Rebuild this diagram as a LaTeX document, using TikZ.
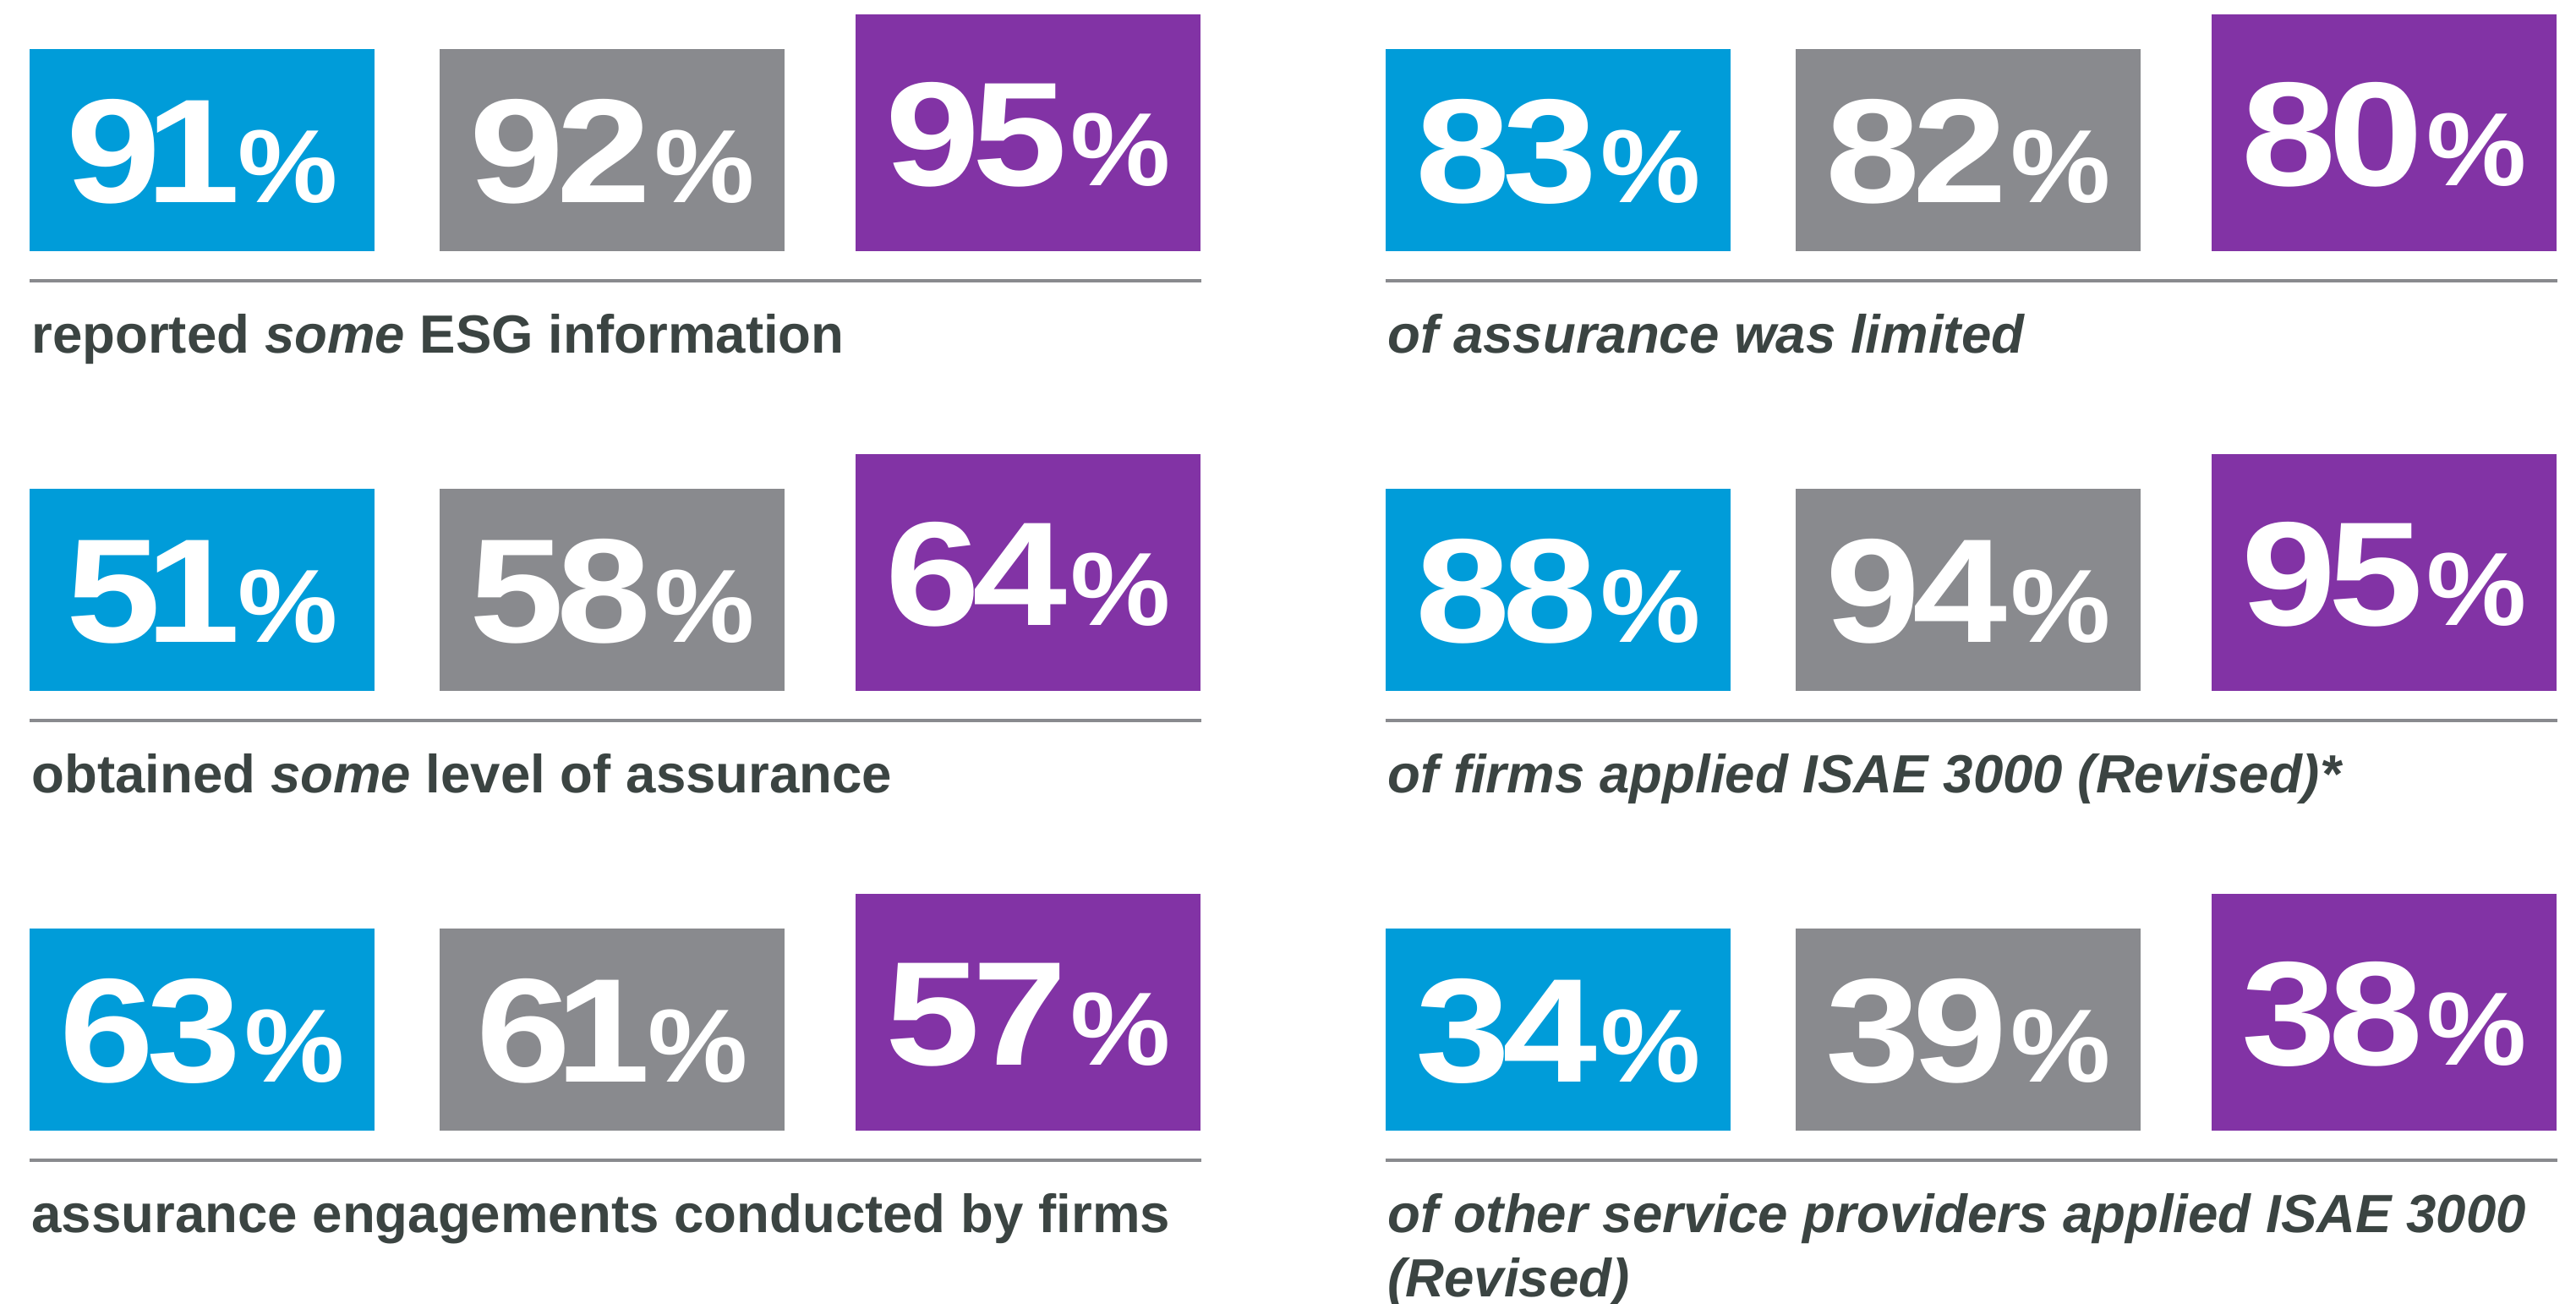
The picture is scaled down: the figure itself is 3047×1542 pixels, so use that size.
\documentclass[tikz,border=0pt]{standalone}
\usepackage{graphicx}
\usepackage{fontspec}
\setmainfont{Liberation Sans}
\newfontfamily\numfont{Liberation Sans}[LetterSpace=-4]
\definecolor{cblue}{HTML}{009CD9}
\definecolor{cgray}{HTML}{898A8E}
\definecolor{cpurple}{HTML}{8233A5}
\definecolor{ctext}{HTML}{3B4442}
\newcommand\bignum[1]{\scalebox{1.15}[1]{\fontsize{87.5pt}{90pt}\selectfont #1}\kern2pt\scalebox{1.08}[1]{\fontsize{61.5pt}{64pt}\selectfont\%}}
\newcommand\one{\kern-8pt 1\kern-3pt}
% #1 prefix, #2 left x, #3 bottom y of boxes, #4 #5 #6 numbers
\newcommand\statgroup[6]{%
  \node[statbox, fill=cblue, minimum height=119.5pt] (#1a) at (#2,#3) {};
  \node[statbox, fill=cgray, minimum height=119.5pt] (#1b) at (#2+485,#3) {};
  \node[statbox, fill=cpurple, minimum height=140pt] (#1c) at (#2+977,#3) {};
  \node[numtxt] (#1na) at ([yshift=-31pt]#1a.center) {\bignum{#4}};
  \node[numtxt] (#1nb) at ([yshift=-31pt]#1b.center) {\bignum{#5}};
  \node[numtxt] (#1nc) at ([yshift=-31pt]#1c.center) {\bignum{#6}};
  \coordinate (#1l) at (#2,#3+35);
  \coordinate (#1r) at (#2+1386,#3+35);
  \draw[rulestyle] (#1l) -- (#1r);
}
\begin{document}
\begin{tikzpicture}[x=0.5pt,y=-0.5pt,
  statbox/.style={draw=none, inner sep=0pt, outer sep=0pt, minimum width=204pt, anchor=south west},
  numtxt/.style={text=white, inner sep=0pt, anchor=base, font=\numfont\bfseries},
  lbl/.style={anchor=base west, inner sep=0pt, text=ctext, font=\bfseries\fontsize{31.8pt}{39pt}\selectfont},
  lbli/.style={lbl, font=\bfseries\itshape\fontsize{31.8pt}{39pt}\selectfont},
  rulestyle/.style={draw=cgray, line width=2pt}]
\useasboundingbox (0,0) rectangle (3047,1542);

\statgroup{la}{35}{297}{9\one}{92}{95}
\statgroup{lb}{35}{817}{5\one}{58}{64}
\statgroup{lc}{35}{1337}{63}{6\one}{57}
\statgroup{ra}{1639}{297}{83}{82}{80}
\statgroup{rb}{1639}{817}{88}{94}{95}
\statgroup{rc}{1639}{1337}{34}{39}{38}

\node[lbl] (t1) at (37,417) {reported \textit{some} ESG information};
\node[lbl] (t2) at (37,937) {obtained \textit{some} level of assurance};
\node[lbl] (t3) at (37,1457) {assurance engagements conducted by firms};
\node[lbli] (t4) at (1641,417) {of assurance was limited};
\node[lbli] (t5) at (1641,937) {of firms applied ISAE 3000 (Revised)*};
\node[lbli] (t6) at (1641,1457) {of other service providers applied ISAE 3000};
\node[lbli] (t7) at (1641,1533) {(Revised)};
\end{tikzpicture}
\end{document}
